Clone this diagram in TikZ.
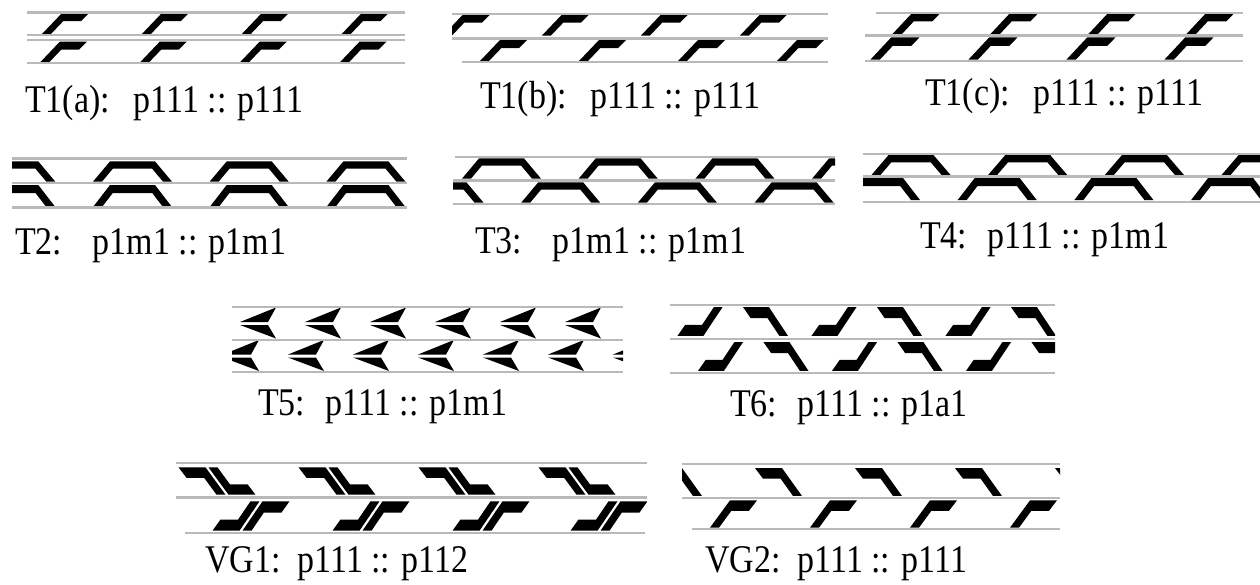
\documentclass[tikz,border=0pt]{standalone}
\usepackage{fontspec}
\setmainfont{Liberation Serif}
\newcommand{\tallbox}[1]{\scalebox{0.97}[1.12]{#1}}
\begin{document}
\begin{tikzpicture}[x=1pt,y=-1pt,
  rail/.style={draw=gray!55, line width=2.7pt},
  lbl/.style={anchor=west, inner sep=0pt, font=\fontsize{35}{38}\selectfont},
  flag/.pic={\fill (-3.5,-10.5) -- (23.5,-10.5) -- (15.5,-2.5) -- (-2.1,-2.5) -- (-14.5,10.5) -- (-23.5,10.5) -- cycle;},
  hat/.pic={\fill (-39.5,11) -- (-22.5,-11) -- (22.5,-11) -- (39.5,11) -- (30.5,11) -- (19.7,-3) -- (-19.7,-3) -- (-30.5,11) -- cycle;},
  chev/.pic={\fill (0,-1.5) -- (36,-16) -- (28,-1.5) -- cycle;
             \fill (0,1.5) -- (28,1.5) -- (36,15) -- cycle;}
]
\useasboundingbox (0,0) rectangle (1260,584);

% ---------- T1(a)
\begin{scope}
  \clip (27,0) rectangle (405,70);
  \foreach \c in {65.5,165.4,265.3,365.2} {
    \pic at (\c,23.5) {flag};
    \pic at (\c-2,52) {flag};
  }
\end{scope}
\draw[rail] (27,12.7) -- (405,12.7);
\draw[rail] (27,35) -- (405,35);
\draw[rail] (27,40) -- (405,40);
\draw[rail] (27,63) -- (405,63);
\node[lbl] (t1a) at (25,103) {\tallbox{T1(a):\hspace{0.7em}p111 :: p111}};

% ---------- T1(b)
\begin{scope}
  \clip (452,0) rectangle (828,70);
  \foreach \c in {466.5,565.5,664.5,763.5} { \pic at (\c,25) {flag}; }
  \foreach \c in {503.5,602.5,701.5,800.5} { \pic at (\c,50.5) {flag}; }
\end{scope}
\draw[rail] (452,14) -- (828,14);
\draw[rail] (452,38.5) -- (828,38.5);
\draw[rail] (462,62) -- (828,62);
\node[lbl] (t1b) at (480,99) {\tallbox{T1(b):\hspace{0.7em}p111 :: p111}};

% ---------- T1(c)
\begin{scope}
  \clip (865,0) rectangle (1243,70);
  \foreach \c in {895,993,1091,1189} {
    \pic[xscale=1.05,yscale=1.07] at (\c+21,24) {flag};
    \pic[xscale=1.05,yscale=1.07] at (\c,48.5) {flag};
  }
\end{scope}
\draw[rail] (876,13) -- (1243,13);
\draw[rail] (865,35.5) -- (1243,35.5);
\draw[rail] (865,61) -- (1243,61);
\node[lbl] (t1c) at (925,96) {\tallbox{T1(c):\hspace{0.7em}p111 :: p111}};

% ---------- T2
\begin{scope}
  \clip (12,150) rectangle (407,215);
  \foreach \c in {15.8,132.5,249.2,365.9} {
    \pic[yscale=0.92] at (\c,171.5) {hat};
    \pic at (\c,196) {hat};
  }
\end{scope}
\draw[rail] (12,158.5) -- (407,158.5);
\draw[rail] (12,183) -- (407,183);
\draw[rail] (12,207.7) -- (407,207.7);
\node[lbl] (t2) at (15,246) {\tallbox{T2:\hspace{0.9em}p1m1 :: p1m1}};

% ---------- T3
\begin{scope}
  \clip (453,150) rectangle (835,215);
  \foreach \c in {501.5,618.2,734.9,851.6} { \pic[yscale=0.92] at (\c,168.5) {hat}; }
  \foreach \c in {444,560.7,677.4,794.1} { \pic[yscale=0.92] at (\c,192.5) {hat}; }
\end{scope}
\draw[rail] (455,157) -- (835,157);
\draw[rail] (453,180.5) -- (835,180.5);
\draw[rail] (453,204) -- (835,204);
\node[lbl] (t3) at (475,245) {\tallbox{T3:\hspace{0.9em}p1m1 :: p1m1}};

% ---------- T4
\begin{scope}
  \clip (863,145) rectangle (1260,210);
  \foreach \c in {911,1027.7,1144.4,1261.1} { \pic[yscale=0.9] at (\c,165) {hat}; }
  \foreach \c in {880.5,997.2,1113.9,1230.6} { \pic at (\c,189) {hat}; }
\end{scope}
\draw[rail] (863,154) -- (1260,154);
\draw[rail] (863,176.5) -- (1260,176.5);
\draw[rail] (863,202) -- (1260,202);
\node[lbl] (t4) at (920,240) {\tallbox{T4:\hspace{0.6em}p111 :: p1m1}};

% ---------- T5
\begin{scope}
  \clip (232,300) rectangle (623,380);
  \foreach \k in {0,...,5} { \pic at (240+65*\k,323.5) {chev}; }
  \foreach \k in {0,...,6} { \pic at (223+65*\k,356) {chev}; }
\end{scope}
\draw[rail] (232,307) -- (623,307);
\draw[rail] (232,340) -- (623,340);
\draw[rail] (232,372) -- (623,372);
\node[lbl] (t5) at (258,407) {\tallbox{T5:\hspace{0.6em}p111 :: p1m1}};

% ---------- T6
\begin{scope}
  \clip (670,300) rectangle (1055,380);
  \foreach \c in {700,834,968} {
    \pic[xscale=-0.96,yscale=-1.38] at (\c,321.5) {flag};
    \pic[xscale=-0.96,yscale=1.38] at (\c+65.5,321.5) {flag};
    \pic[xscale=-0.96,yscale=-1.38] at (\c+20.5,356.5) {flag};
    \pic[xscale=-0.96,yscale=1.38] at (\c+86,356.5) {flag};
  }
\end{scope}
\draw[rail] (670,305) -- (1055,305);
\draw[rail] (670,339) -- (1055,339);
\draw[rail] (670,373) -- (1055,373);
\node[lbl] (t6) at (730,408) {\tallbox{T6:\hspace{0.6em}p111 :: p1a1}};

% ---------- VG1
\begin{scope}
  \clip (176,455) rectangle (647,540);
  \foreach \c in {202,322,442,562} {
    \pic[xscale=-1,yscale=1.3] at (\c,481) {flag};
    \pic[yscale=-1.3] at (\c+30,481) {flag};
  }
  \foreach \c in {236,356,476,594} {
    \pic[xscale=-1,yscale=-1.4] at (\c,516) {flag};
    \pic[yscale=1.4] at (\c+30,516) {flag};
  }
\end{scope}
\draw[rail] (176,463) -- (647,463);
\draw[rail] (176,497.5) -- (647,497.5);
\draw[rail] (185,533) -- (645,533);
\node[lbl] (vg1) at (205,564) {\tallbox{VG1:\hspace{0.5em}p111 :: p112}};

% ---------- VG2
\begin{scope}
  \clip (682,455) rectangle (1060,540);
  \foreach \c in {678.5,778.5,878.5,978.5,1078.5} { \pic[xscale=-1,yscale=1.33] at (\c,482) {flag}; }
  \foreach \c in {733.5,833.5,933.5,1033.5} { \pic[yscale=1.3] at (\c,514) {flag}; }
\end{scope}
\draw[rail] (682,464) -- (1060,464);
\draw[rail] (682,498) -- (1060,498);
\draw[rail] (692,529) -- (1060,529);
\node[lbl] (vg2) at (705,564) {\tallbox{VG2:\hspace{0.5em}p111 :: p111}};
\end{tikzpicture}
\end{document}
